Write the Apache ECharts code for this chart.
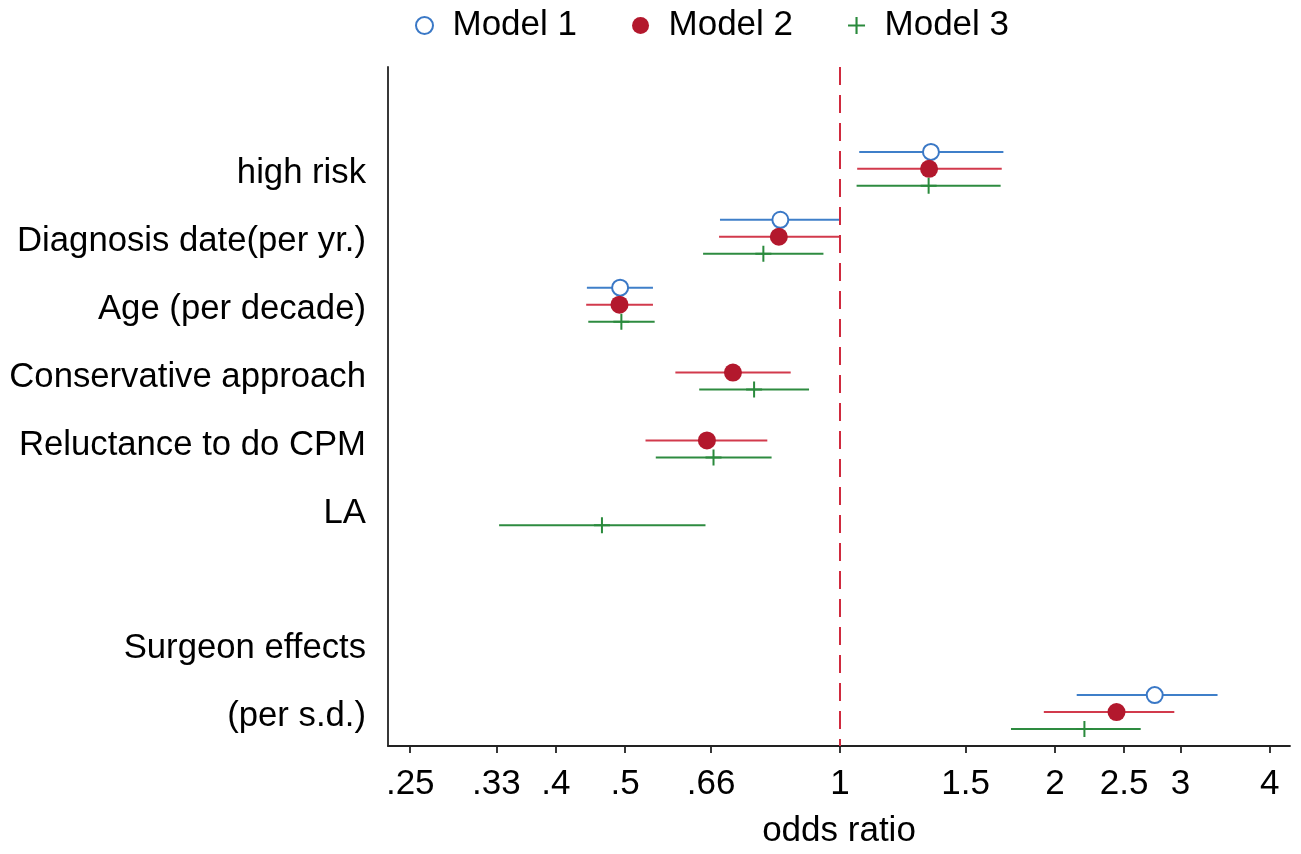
<!DOCTYPE html>
<html>
<head>
<meta charset="utf-8">
<script src="https://cdn.jsdelivr.net/npm/echarts@6/dist/echarts.min.js"></script>
<style>
  html, body { margin: 0; padding: 0; background: #fff; }
  #chart { width: 1301px; height: 854px; }
</style>
</head>
<body>
<div id="chart"></div>
<script>
// rows from top to bottom; row 6 is an empty spacer
const rowLabels = ['high risk', 'Diagnosis date(per yr.)', 'Age (per decade)', 'Conservative approach',
    'Reluctance to do CPM', 'LA', '', 'Surgeon effects', '(per s.d.)'];

const xTickVals = [0.25, 0.33, 0.4, 0.5, 0.66, 1, 1.5, 2, 2.5, 3, 4];
const xTickLabels = ['.25', '.33', '.4', '.5', '.66', '1', '1.5', '2', '2.5', '3', '4'];

// odds ratios and 95% CI per row (null = not in model)
const m1Est = [1.341, 0.825, 0.492, null, null, null, null, null, 2.76];
const m1Lo  = [1.064, 0.679, 0.442, null, null, null, null, null, 2.146];
const m1Hi  = [1.694, 1.002, 0.547, null, null, null, null, null, 3.38];

const m2Est = [1.333, 0.821, 0.491, 0.708, 0.651, null, null, null, 2.44];
const m2Lo  = [1.057, 0.677, 0.441, 0.588, 0.534, null, null, null, 1.93];
const m2Hi  = [1.685, 0.997, 0.547, 0.853, 0.791, null, null, null, 2.94];

const m3Est = [1.331, 0.781, 0.494, 0.758, 0.665, 0.464, null, null, 2.20];
const m3Lo  = [1.055, 0.643, 0.444, 0.635, 0.552, 0.333, null, null, 1.736];
const m3Hi  = [1.679, 0.948, 0.550, 0.905, 0.802, 0.648, null, null, 2.638];

const xMin = 0.2327, xMax = 4.27;
const font = 'Liberation Sans, Arial, Helvetica, sans-serif';

function points(est, off) {
    let out = [];
    est.forEach((v, i) => { if (v != null) out.push([Math.log(v), i + off]); });
    return out;
}
function ranges(lo, hi, off) {
    let out = [];
    lo.forEach((v, i) => { if (v != null) out.push([Math.log(v), Math.log(hi[i]), i + off]); });
    return out;
}
function ciSeries(name, lo, hi, off, color) {
    return {
        name: name,
        type: 'custom',
        data: ranges(lo, hi, off),
        encode: {x: [0, 1], y: 2},
        z: 2,
        silent: true,
        renderItem: function (params, api) {
            let a = api.coord([api.value(0), api.value(2)]);
            let b = api.coord([api.value(1), api.value(2)]);
            return {
                type: 'line',
                shape: {x1: a[0], y1: a[1], x2: b[0], y2: b[1]},
                style: {stroke: color, lineWidth: 2}
            };
        }
    };
}

let chart = echarts.init(document.getElementById('chart'));
const option = {
    animation: false,
    textStyle: {fontFamily: font},
    legend: {
        data: ['Model 1', 'Model 2', 'Model 3'],
        left: 410,
        top: 3,
        itemWidth: 46,
        itemHeight: 17,
        itemGap: 55,
        textStyle: {fontSize: 35, color: '#000', fontFamily: font}
    },
    grid: {left: 388, right: 11, top: 67, bottom: 104},
    xAxis: {
        type: 'value',
        min: Math.log(xMin),
        max: Math.log(xMax),
        name: 'odds ratio',
        nameLocation: 'middle',
        nameGap: 68,
        nameTextStyle: {fontSize: 35, color: '#000', fontFamily: font},
        axisLine: {onZero: false, lineStyle: {color: '#222', width: 1.8}},
        axisTick: {
            show: true, length: 7,
            lineStyle: {color: '#222', width: 1.8},
            customValues: xTickVals.map(v => Math.log(v))
        },
        axisLabel: {
            fontSize: 35, color: '#000', margin: 21, fontFamily: font,
            customValues: xTickVals.map(v => Math.log(v)),
            formatter: function (v) {
                for (let i = 0; i < xTickVals.length; i++) {
                    if (Math.abs(Math.log(xTickVals[i]) - v) < 1e-6) return xTickLabels[i];
                }
                return '';
            }
        },
        splitLine: {show: false}
    },
    yAxis: {
        type: 'value',
        inverse: true,
        min: -1.5,
        max: 8.5,
        axisLine: {show: true, onZero: false, lineStyle: {color: '#222', width: 1.8}},
        axisTick: {show: false},
        axisLabel: {
            fontSize: 34.7, color: '#000', margin: 22, fontFamily: font,
            // labels sit a little below the middle marker of each row
            customValues: rowLabels.map((d, i) => i + 0.07),
            formatter: function (v) { return rowLabels[Math.round(v)] || ''; }
        },
        splitLine: {show: false}
    },
    series: [
        ciSeries('ci1', m1Lo, m1Hi, -0.25, '#3f7fc9'),
        ciSeries('ci2', m2Lo, m2Hi, 0, '#d23a4c'),
        ciSeries('ci3', m3Lo, m3Hi, 0.25, '#2e8b40'),
        {
            name: 'Model 1',
            type: 'scatter',
            data: points(m1Est, -0.25),
            symbol: 'circle',
            symbolSize: 16,
            z: 5,
            itemStyle: {color: '#fff', borderColor: '#3a78c6', borderWidth: 2, opacity: 1}
        },
        {
            name: 'Model 2',
            type: 'scatter',
            data: points(m2Est, 0),
            symbol: 'circle',
            symbolSize: 18,
            z: 5,
            itemStyle: {color: '#b3182d', opacity: 1},
            markLine: {
                silent: true,
                symbol: 'none',
                label: {show: false},
                lineStyle: {color: '#cf2a3e', type: [18, 10], width: 2},
                data: [{xAxis: 0}]
            }
        },
        {
            name: 'Model 3',
            type: 'scatter',
            data: points(m3Est, 0.25),
            symbol: 'path://M7,0 h2 v7 h7 v2 h-7 v7 h-2 v-7 h-7 v-2 h7 z',
            symbolSize: 16,
            z: 5,
            itemStyle: {color: '#2a8a3c', opacity: 1}
        }
    ]
};

chart.setOption(option);

window.addEventListener('resize', function () {
    chart.resize();
});
</script>
</body>
</html>
